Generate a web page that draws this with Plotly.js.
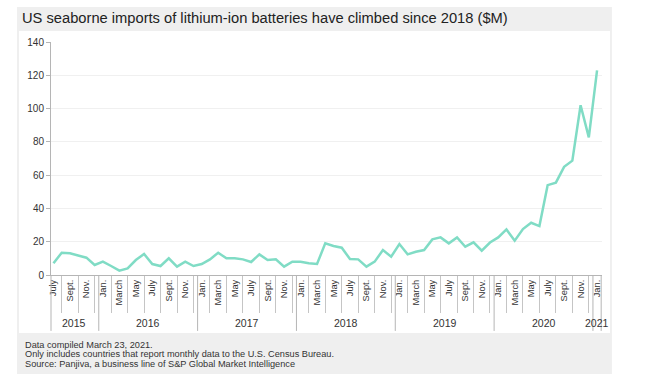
<!DOCTYPE html>
<html>
<head>
<meta charset="utf-8">
<script src="https://cdn.plot.ly/plotly-3.0.1.min.js"></script>
<style>html,body{margin:0;padding:0;background:#fff;}#chart{width:670px;height:380px;}</style>
</head>
<body>
<div id="chart"></div>
<script>
// Monthly values, July 2015 .. January 2021 ($M)
const values = [
  7, 13.4, 13, 11.8, 10.4, 6,                                  // 2015 Jul-Dec
  8, 5.4, 2.6, 4, 9, 12.6, 6.6, 5.4, 10, 5, 8, 5.4,             // 2016
  6.6, 9.4, 13.4, 10, 10, 9.4, 7.8, 12.4, 9, 9.4, 5, 8,         // 2017
  8, 7, 6.6, 19, 17.4, 16.4, 9.6, 9.4, 5, 8, 15, 11,            // 2018
  18.6, 12.4, 14, 15, 21.4, 22.6, 19, 22.6, 17, 19.6, 14.6, 19.5, // 2019
  22.6, 27.4, 20.6, 27.6, 31.4, 29.4, 54, 55.5, 65, 68.7, 102, 82.7, // 2020
  123                                                          // 2021 Jan
];
const monthNames = ['Jan.','Feb.','March','April','May','June','July','Aug.','Sept.','Oct.','Nov.','Dec.'];
const years = ['2015','2016','2017','2018','2019','2020','2021'];
const startMonth = 6; // July
const yTicks = [0, 20, 40, 60, 80, 100, 120, 140];
const titleText = 'US seaborne imports of lithium-ion batteries have climbed since 2018 ($M)';
const notes = [
  'Data compiled March 23, 2021.',
  'Only includes countries that report monthly data to the U.S. Census Bureau.',
  'Source: Panjiva, a business line of S&P Global Market Intelligence'
];

const idx = values.map((v, i) => i);
const monthOf = i => (startMonth + i) % 12;
const yearOf = i => Math.floor((startMonth + i) / 12);
const labeled = idx.filter(i => i % 2 === 0);
const unlabeled = idx.filter(i => i % 2 === 1);
const FONT = 'Liberation Sans, Arial, sans-serif';

const shapes = [];
// background panels (paper coords)
shapes.push({type:'rect', xref:'paper', yref:'paper', x0:-0.0617, x1:1.018, y0:-0.425, y1:1.150,
  fillcolor:'#efefef', line:{width:0}, layer:'below'});
shapes.push({type:'rect', xref:'paper', yref:'paper', x0:-0.058, x1:1.0145, y0:-0.249, y1:1.047,
  fillcolor:'#ffffff', line:{width:0}, layer:'below'});
// left axis extension
shapes.push({type:'line', xref:'paper', yref:'paper', x0:0, x1:0, y0:0, y1:-0.24,
  line:{color:'#b5b5b5', width:1}});
// year dividers
idx.filter(i => monthOf(i) === 0).forEach(i => {
  shapes.push({type:'line', xref:'x', yref:'paper', x0:i-0.5, x1:i-0.5, y0:0, y1:-0.24,
    line:{color:'#b5b5b5', width:1}});
});
shapes.push({type:'line', xref:'x', yref:'paper', x0:idx.length-0.5, x1:idx.length-0.5, y0:0, y1:-0.24,
  line:{color:'#b5b5b5', width:1}});

const annotations = [];
years.forEach((y, k) => {
  const members = idx.filter(i => yearOf(i) === k);
  const c = (members[0] + members[members.length-1]) / 2;
  annotations.push({x:c, y:-0.205, xref:'x', yref:'paper', text:y, showarrow:false,
    xanchor:'center', yanchor:'middle', font:{family:FONT, size:10.5, color:'#333'}});
});
notes.forEach((t, k) => {
  annotations.push({x:-0.0508, y:-0.3 - k*0.041, xref:'paper', yref:'paper', text:t, showarrow:false,
    xanchor:'left', yanchor:'middle', align:'left',
    font:{family:FONT, size:9.2, color:'#333'}});
});

const trace = {
  x: idx, y: values, type:'scatter', mode:'lines',
  line:{color:'#80dcc5', width:2.5, shape:'linear'},
  hoverinfo:'skip'
};

const layout = {
  width:670, height:380,
  margin:{l:51, r:68, t:42, b:105},
  paper_bgcolor:'#ffffff', plot_bgcolor:'#ffffff',
  showlegend:false,
  title:{text:titleText, x:22/670, xref:'container', xanchor:'left', y:1-18/380, yref:'container', yanchor:'middle',
    font:{family:FONT, size:14.7, color:'#222'}},
  xaxis:{
    range:[-0.3, 66.6], showgrid:false, zeroline:false,
    showline:true, linecolor:'#b5b5b5', linewidth:1,
    tickmode:'array', tickvals:labeled, ticktext:labeled.map(i => monthNames[monthOf(i)]),
    tickangle:-90, ticks:'', tickfont:{family:FONT, size:9.3, color:'#333'},
    minor:{tickmode:'array', tickvals:unlabeled, ticks:'outside', ticklen:37, tickcolor:'#c5c5c5', tickwidth:1, showgrid:false}
  },
  yaxis:{
    range:[0, 140], tickmode:'array', tickvals:yTicks, ticktext:yTicks.map(String),
    showgrid:true, gridcolor:'#f0f0f0', gridwidth:1, zeroline:false,
    showline:true, linecolor:'#b5b5b5', linewidth:1, ticks:'outside', ticklen:4, tickcolor:'#b5b5b5',
    tickfont:{family:FONT, size:10, color:'#333'}
  },
  shapes:shapes, annotations:annotations
};

Plotly.newPlot('chart', [trace], layout, {displayModeBar:false, staticPlot:true});
</script>
</body>
</html>
